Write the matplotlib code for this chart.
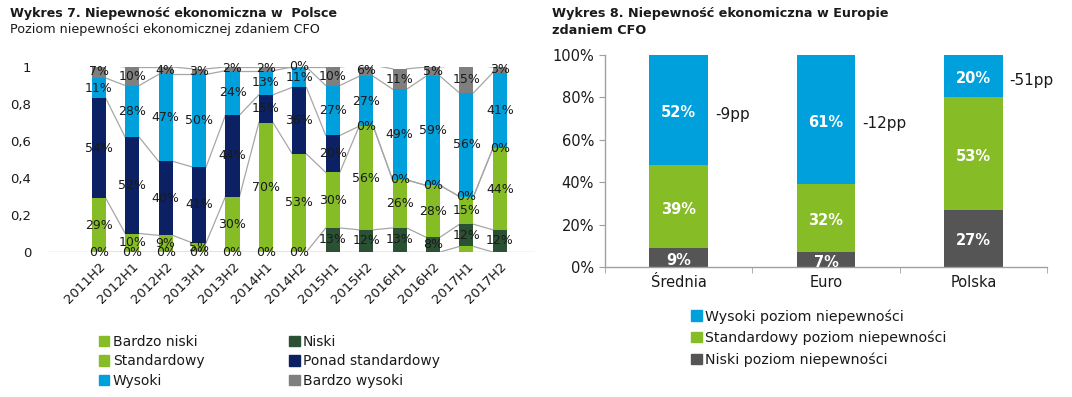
import matplotlib
matplotlib.use("Agg")
import matplotlib.pyplot as plt
import numpy as np
from matplotlib.patches import Patch

# ---------------- Data: chart 7 (Poland) ----------------
periods = ["2011H2", "2012H1", "2012H2", "2013H1", "2013H2", "2014H1", "2014H2",
           "2015H1", "2015H2", "2016H1", "2016H2", "2017H1", "2017H2"]
bardzo_niski = [0, 0, 0, 0, 0, 0, 0, 0, 0, 0, 0, 3, 0]
niski = [0, 0, 0, 0, 0, 0, 0, 13, 12, 13, 8, 12, 12]
standardowy = [29, 10, 9, 5, 30, 70, 53, 30, 56, 26, 28, 15, 44]
ponad_standardowy = [54, 52, 40, 41, 44, 15, 36, 20, 0, 0, 0, 0, 0]
wysoki = [11, 28, 47, 50, 24, 13, 11, 27, 27, 49, 59, 56, 41]
bardzo_wysoki = [7, 10, 4, 3, 2, 2, 0, 10, 6, 11, 5, 15, 3]
series7_names = ["Bardzo niski", "Niski", "Standardowy", "Ponad standardowy",
                 "Wysoki", "Bardzo wysoki"]
y7_ticks = [0, 0.2, 0.4, 0.6, 0.8, 1.0]
y7_ticklabels = ["0", "0,2", "0,4", "0,6", "0,8", "1"]

# ---------------- Data: chart 8 (Europe) ----------------
regions = ["Średnia", "Euro", "Polska"]
niski_poziom = [9, 7, 27]
standardowy_poziom = [39, 32, 53]
wysoki_poziom = [52, 61, 20]
pp_change = ["-9pp", "-12pp", "-51pp"]
series8_names = ["Niski poziom niepewności", "Standardowy poziom niepewności",
                 "Wysoki poziom niepewności"]

# ---------------- Styles ----------------
c_lgreen = "#86BC25"
c_dgreen = "#2A5133"
c_navy = "#0B2163"
c_blue = "#00A0DD"
c_grey = "#7F7F7F"
c_dgrey = "#555555"
colors7 = [c_lgreen, c_dgreen, c_lgreen, c_navy, c_blue, c_grey]
label7 = [False, True, True, True, True, True]
colors8 = [c_dgrey, c_lgreen, c_blue]
txt = "#1a1a1a"

plt.rcParams['font.family'] = ['DejaVu Sans']

W, H = 1072, 397
fig = plt.figure(figsize=(W / 100, H / 100), dpi=100)
fig.patch.set_facecolor("white")

def ax_rect(x0, y_top, x1, y_bot):
    return [x0 / W, 1 - y_bot / H, (x1 - x0) / W, (y_bot - y_top) / H]

# ---------------- Chart 7 ----------------
fig.text(10 / W, 1 - 14 / H, "Wykres 7. Niepewność ekonomiczna w  Polsce",
         fontsize=9.1, fontweight="bold", va="center", ha="left", color=txt)
fig.text(10 / W, 1 - 30 / H, "Poziom niepewności ekonomicznej zdaniem CFO",
         fontsize=9.2, va="center", ha="left", color=txt)

ax = fig.add_axes(ax_rect(48, 67, 535, 252))
x = np.arange(len(periods))
bw = 0.42
data7 = [np.array(s, dtype=float) / 100 for s in
         [bardzo_niski, niski, standardowy, ponad_standardowy, wysoki, bardzo_wysoki]]
bottom = np.zeros(len(periods))
tops = []
for vals, col, name, lab in zip(data7, colors7, series7_names, label7):
    ax.bar(x, vals, bw, bottom=bottom, color=col, linewidth=0, zorder=2)
    if lab:
        for xi, b, v in zip(x, bottom, vals):
            ax.text(xi, b + v / 2, f"{round(v * 100):d}%", ha="center", va="center",
                    fontsize=9, color=txt, zorder=4, clip_on=False)
    bottom = bottom + vals
    tops.append(bottom.copy())

# series lines
for t in tops:
    for i in range(len(periods) - 1):
        ax.plot([x[i] + bw / 2, x[i + 1] - bw / 2], [t[i], t[i + 1]],
                color="#A6A6A6", lw=0.9, zorder=1)

ax.set_xlim(-1.52, 13.05)
ax.set_ylim(0, 1)
ax.axhline(0, color="#C8C8C8", lw=1, zorder=1)
for s in ax.spines.values():
    s.set_visible(False)
ax.set_yticks(y7_ticks)
ax.set_yticklabels(y7_ticklabels, fontsize=9.5, color=txt)
ax.tick_params(axis="y", length=0, pad=12)
ax.set_xticks(x)
ax.set_xticklabels(periods, rotation=45, ha="right", va="top",
                   rotation_mode="anchor", fontsize=9.5, color=txt)
ax.tick_params(axis="x", length=0, pad=6)

h7 = [Patch(color=c, label=n) for c, n in zip(colors7, series7_names)]
order = [0, 2, 4, 1, 3, 5]
leg7 = fig.legend([h7[i] for i in order], [series7_names[i] for i in order],
                  ncol=2, loc="upper left", bbox_to_anchor=(99 / W, 1 - 335 / H),
                  frameon=False, fontsize=10, handlelength=0.75, handleheight=0.75,
                  handletextpad=0.25, labelspacing=0.38, columnspacing=6.1,
                  borderaxespad=0, borderpad=0)
for t in leg7.get_texts():
    t.set_color(txt)

# ---------------- Chart 8 ----------------
fig.text(552 / W, 1 - 14 / H, "Wykres 8. Niepewność ekonomiczna w Europie",
         fontsize=9.2, fontweight="bold", va="center", ha="left", color=txt)
fig.text(552 / W, 1 - 30 / H, "zdaniem CFO",
         fontsize=9.2, fontweight="bold", va="center", ha="left", color=txt)

ax2 = fig.add_axes(ax_rect(605, 55, 1047, 267))
x2 = np.arange(len(regions))
bw2 = 0.4
bottom = np.zeros(len(regions))
for vals, col in zip([niski_poziom, standardowy_poziom, wysoki_poziom], colors8):
    v = np.array(vals, dtype=float)
    ax2.bar(x2, v, bw2, bottom=bottom, color=col, linewidth=0, zorder=2)
    for xi, b, vv in zip(x2, bottom, v):
        ax2.text(xi, b + vv / 2 - 1.2, f"{int(vv)}%", ha="center", va="center",
                 fontsize=10.5, color="white", fontweight="bold", zorder=4)
    bottom = bottom + v
b_top = np.array(niski_poziom) + np.array(standardowy_poziom)
for xi, bt, w_, lab in zip(x2, b_top, wysoki_poziom, pp_change):
    ax2.annotate(lab, xy=(xi + bw2 / 2, bt + w_ / 2), xytext=(5, -3),
                 textcoords="offset points", ha="left", va="center",
                 fontsize=11, color=txt)

ax2.set_xlim(-0.5, 2.5)
ax2.set_ylim(0, 100)
ax2.set_yticks(np.arange(0, 101, 20))
ax2.set_yticklabels([f"{v}%" for v in range(0, 101, 20)], fontsize=10.5, color=txt)
ax2.set_xticks(x2)
ax2.set_xticklabels(regions, fontsize=10.5, color=txt)
ax2.set_xticks([-0.5, 0.5, 1.5, 2.5], minor=True)
ax2.tick_params(axis="x", which="major", length=0, pad=6)
ax2.tick_params(axis="x", which="minor", length=4, color="#A0A0A0", direction="out")
ax2.tick_params(axis="y", length=4, color="#A0A0A0", direction="out", pad=4)
for k in ["top", "right"]:
    ax2.spines[k].set_visible(False)
for k in ["left", "bottom"]:
    ax2.spines[k].set_color("#A0A0A0")
    ax2.spines[k].set_linewidth(1)

h8 = [Patch(color=c, label=n) for c, n in zip(colors8, series8_names)]
leg8 = fig.legend(h8[::-1], series8_names[::-1], loc="upper left",
                  bbox_to_anchor=(691 / W, 1 - 309 / H), frameon=False,
                  fontsize=10.2, handlelength=0.75, handleheight=0.75,
                  handletextpad=0.25, labelspacing=0.5, borderaxespad=0, borderpad=0)
for t in leg8.get_texts():
    t.set_color(txt)

fig.savefig("out.png", dpi=100, facecolor="white")
